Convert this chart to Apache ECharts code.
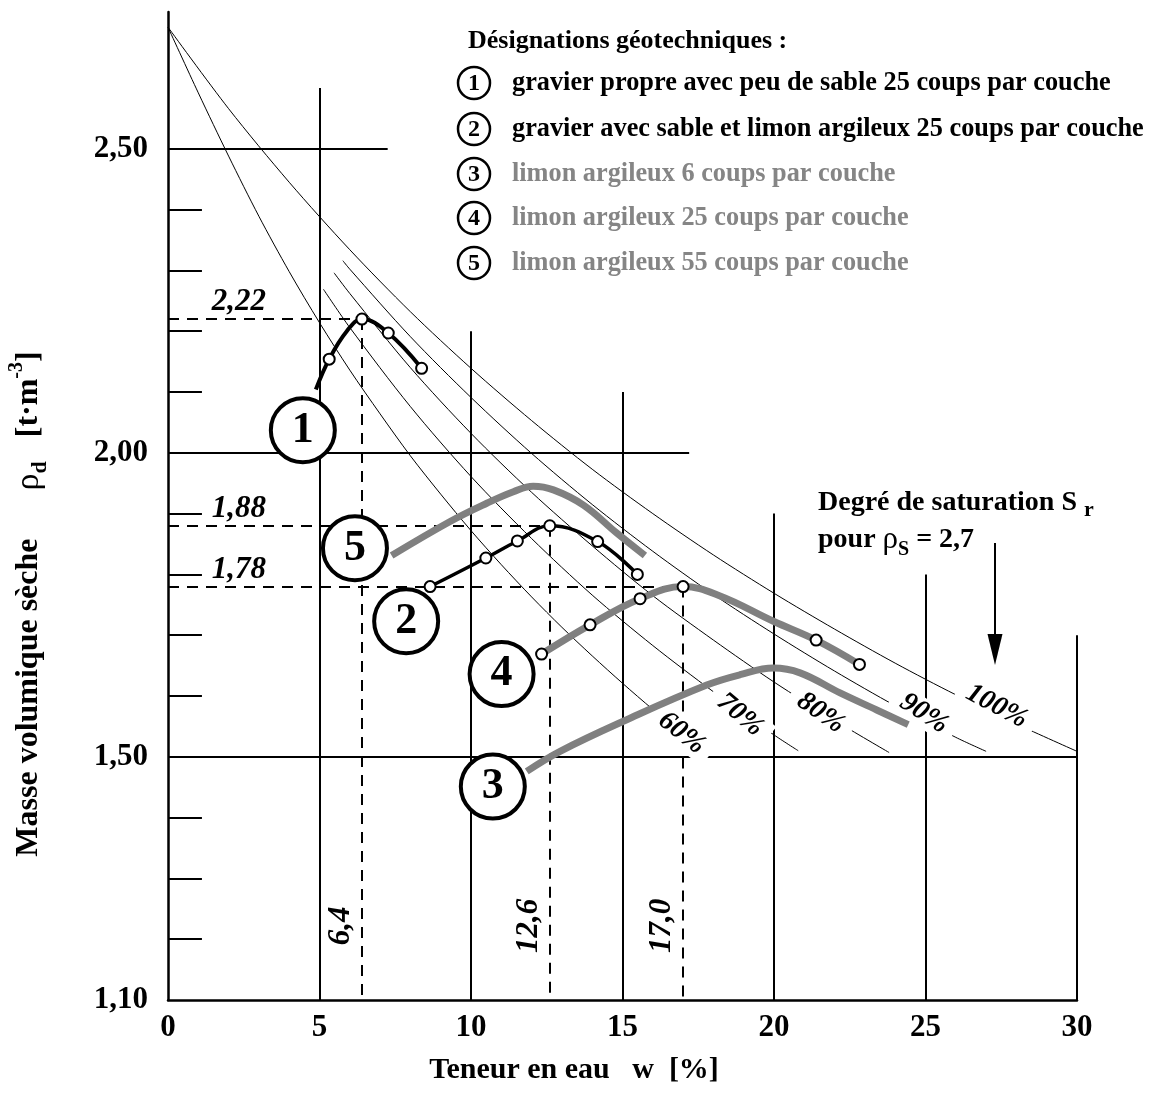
<!DOCTYPE html>
<html lang="fr">
<head>
<meta charset="UTF-8">
<title>Essai Proctor - masse volumique sèche</title>
<style>
  html, body { margin: 0; padding: 0; background: #fff; }
  #chart { width: 1152px; height: 1093px; }
</style>
</head>
<body>
<div id="chart"></div>
<script src="https://cdn.jsdelivr.net/npm/echarts@6/dist/echarts.min.js"></script>
<script>
var FONT = '"Liberation Serif", "Times New Roman", serif';

// courbes de saturation : [w %, rho_d]
var sat60 = [[0,2.700],[1,2.592],[2,2.488],[3,2.389],[4,2.298],[5,2.214],[6,2.136],[7,2.064],[8,1.995],[9,1.932],[10,1.872],[11,1.816],[12,1.763],[13,1.713],[14,1.666],[15,1.621],[16,1.578],[17,1.538],[17.3,1.527]];
var sat70 = [[5.13,2.269],[6,2.206],[8,2.076],[10,1.961],[12,1.859],[14,1.766],[16,1.683],[18,1.607],[20,1.536],[20.8,1.510]];
var sat80 = [[5.48,2.296],[6,2.262],[8,2.140],[10,2.032],[12,1.935],[14,1.847],[16,1.765],[18,1.692],[20,1.623],[22,1.560],[23.8,1.507]];
var sat90 = [[5.77,2.316],[6,2.302],[8,2.191],[10,2.091],[12,1.999],[14,1.915],[16,1.838],[18,1.767],[20,1.702],[22,1.641],[24,1.584],[26,1.532],[27,1.509]];
var sat100 = [[0,2.700],[2,2.566],[4,2.445],[6,2.334],[8,2.232],[10,2.139],[12,2.053],[14,1.973],[16,1.900],[18,1.832],[20,1.769],[22,1.710],[24,1.654],[26,1.602],[28,1.554],[30,1.509]];
var satNames = ['60%', '70%', '80%', '90%', '100%'];

// essais Proctor
var c1Line = [[4.88,2.104],[5.32,2.154],[5.9,2.200],[6.4,2.220],[7.27,2.197],[8.37,2.139]];
var c1Marks = [[5.32,2.154],[6.4,2.220],[7.27,2.197],[8.37,2.139]];
var c2Line = [[8.65,1.78],[10.49,1.827],[11.53,1.855],[12.6,1.88],[14.18,1.854],[15.49,1.80]];
var c3Line = [[11.84,1.476],[12.94,1.509],[15.14,1.561],[17.78,1.618],[18.88,1.635],[19.98,1.646],[20.86,1.638],[22.18,1.605],[23.39,1.577],[24.43,1.553]];
var c4Line = [[12.33,1.669],[13.93,1.717],[15.58,1.760],[17.0,1.78],[18.2,1.765],[19.98,1.723],[21.39,1.692],[22.82,1.652]];
var c4Marks = [[12.33,1.669],[13.93,1.717],[15.58,1.760],[17.0,1.78],[21.39,1.692],[22.82,1.652]];
var c5Line = [[7.38,1.831],[9.31,1.887],[10.52,1.917],[11.40,1.936],[12.05,1.945],[12.72,1.939],[13.71,1.914],[14.81,1.868],[15.74,1.831]];

// optimums
var optW = [6.4, 12.6, 17.0];
var optRho = [2.22, 1.88, 1.78];

// axes
var yLabelVals = [1.1, 1.5, 2.0, 2.5];
var yTicks = [1.2, 1.3, 1.4, 1.6, 1.7, 1.8, 1.9, 2.1, 2.2, 2.3, 2.4];
var gridX = [5, 10, 15, 20, 25, 30];
var gridXTop = [2.6, 2.2, 2.1, 1.9, 1.8, 1.7];
var gridY = [2.5, 2.0, 1.5];
var gridYEnd = [7.25, 17.2, 30];

var legendNums = ['1', '2', '3', '4', '5'];
var legendTexts = [
  'gravier propre avec peu de sable 25 coups par couche',
  'gravier avec sable et limon argileux 25 coups par couche',
  'limon argileux 6 coups par couche',
  'limon argileux 25 coups par couche',
  'limon argileux 55 coups par couche'
];

function fmt(v, d) { return v.toFixed(d).replace('.', ','); }

var chart = echarts.init(document.getElementById('chart'));

var gridSegs = [];
gridX.forEach(function (x, i) { gridSegs.push({ coords: [[x, 1.1], [x, gridXTop[i]]] }); });
gridY.forEach(function (y, i) { gridSegs.push({ coords: [[0, y], [gridYEnd[i], y]] }); });
yTicks.forEach(function (y) { gridSegs.push({ coords: [[0, y], [1.12, y]] }); });

var dashSegs = [];
optW.forEach(function (w, i) {
  dashSegs.push({ coords: [[0, optRho[i]], [w, optRho[i]]] });
  dashSegs.push({ coords: [[w, optRho[i]], [w, 1.1]] });
});

function satLine(data) {
  return { type: 'line', data: data, smooth: 0.3, symbol: 'none', z: 2, silent: true,
    lineStyle: { color: '#000', width: 1 } };
}
function curve(data, color, width, z) {
  return { type: 'line', data: data, smooth: 0.4, symbol: 'none', z: z, silent: true,
    lineStyle: { color: color, width: width, cap: 'butt' } };
}
function marks(data) {
  return { type: 'scatter', data: data, symbol: 'circle', symbolSize: 11, z: 9, silent: true,
    itemStyle: { color: '#fff', borderColor: '#000', borderWidth: 2, opacity: 1 } };
}

// emplacement des étiquettes
var satLabelPos = [[16.95,1.539],[18.88,1.569],[21.54,1.572],[24.95,1.571],[27.35,1.583]];
var satLabelRot = [-38, -40, -35, -33, -28];
var circlePos = [[4.45,2.037],[7.86,1.723],[10.72,1.451],[11.01,1.636],[6.17,1.843]];

var boldLbl = { fontFamily: FONT, fontWeight: 'bold', color: '#000' };
var hidden = { color: 'rgba(0,0,0,0)', borderWidth: 0, opacity: 1 };

var series = [
  { type: 'lines', coordinateSystem: 'cartesian2d', data: gridSegs, z: 1, silent: true,
    lineStyle: { color: '#000', width: 2, opacity: 1 } },
  satLine(sat60), satLine(sat70), satLine(sat80), satLine(sat90), satLine(sat100),
  { type: 'lines', coordinateSystem: 'cartesian2d', data: dashSegs, z: 3, silent: true,
    lineStyle: { color: '#000', width: 2, opacity: 1, type: [11, 8] } },
  { type: 'scatter', symbolSize: 2, z: 4, silent: true, itemStyle: hidden,
    data: satLabelPos.map(function (p, i) {
      return { value: p, label: { show: true, formatter: satNames[i], rotate: satLabelRot[i] } };
    }),
    label: Object.assign({ position: 'inside', fontSize: 28, fontStyle: 'italic',
      backgroundColor: '#fff', padding: [0, 10] }, boldLbl) },
  curve(c3Line, '#808080', 7, 5),
  curve(c4Line, '#808080', 7, 5),
  curve(c5Line, '#808080', 7, 5),
  curve(c1Line, '#000', 4, 6),
  curve(c2Line, '#000', 3.5, 6),
  marks(c1Marks), marks(c2Line), marks(c4Marks),
  // valeurs des optimums
  { type: 'scatter', symbolSize: 2, z: 8, silent: true, itemStyle: hidden,
    data: optRho.map(function (r) {
      return { value: [2.34, r], label: { show: true, formatter: fmt(r, 2), offset: [0, -17] } };
    }).concat(optW.map(function (w) {
      return { value: [w, 1.222], label: { show: true, formatter: fmt(w, 1), rotate: 90, offset: [0, -21] } };
    })),
    label: Object.assign({ position: 'inside', fontSize: 31, fontStyle: 'italic' }, boldLbl) },
  // numéros des courbes
  { type: 'scatter', symbol: 'circle', symbolSize: 64, z: 10, silent: true,
    itemStyle: { color: '#fff', borderColor: '#000', borderWidth: 4, opacity: 1 },
    data: circlePos.map(function (p, i) { return { value: p, label: { show: true, formatter: legendNums[i] } }; }),
    label: Object.assign({ position: 'inside', fontSize: 44 }, boldLbl) }
];

var graphic = [
  { type: 'text', x: 468, y: 41, style: { text: 'Désignations géotechniques :', font: 'bold 26px ' + FONT,
    fill: '#000', align: 'left', verticalAlign: 'middle', textAlign: 'left', textVerticalAlign: 'middle' } }
];
var legendY = [83, 129, 174, 218, 263];
legendTexts.forEach(function (t, i) {
  var col = i < 2 ? '#000' : '#858585';
  graphic.push({ type: 'circle', shape: { cx: 474, cy: legendY[i], r: 16 },
    style: { fill: '#fff', stroke: '#000', lineWidth: 2.5 } });
  graphic.push({ type: 'text', x: 474, y: legendY[i] + 1, style: { text: legendNums[i], font: 'bold 24px ' + FONT,
    fill: '#000', align: 'center', verticalAlign: 'middle', textAlign: 'center', textVerticalAlign: 'middle' } });
  graphic.push({ type: 'text', x: 512, y: legendY[i], style: { text: t, font: 'bold 26.3px ' + FONT,
    fill: col, align: 'left', verticalAlign: 'middle', textAlign: 'left', textVerticalAlign: 'middle' } });
});
// Degré de saturation
graphic.push({ type: 'text', x: 818, y: 503, style: {
  text: 'Degré de saturation S {sub|r}', font: 'bold 28px ' + FONT, fill: '#000', lineHeight: 36,
  align: 'left', verticalAlign: 'middle', textAlign: 'left', textVerticalAlign: 'middle',
  rich: { sub: { fontFamily: FONT, fontWeight: 'bold', fontSize: 22, verticalAlign: 'bottom', lineHeight: 22 } } } });
graphic.push({ type: 'text', x: 818, y: 540, style: {
  text: 'pour {rho|ρ}{sub|S} = 2,7', font: 'bold 28px ' + FONT, fill: '#000', lineHeight: 40,
  align: 'left', verticalAlign: 'middle', textAlign: 'left', textVerticalAlign: 'middle',
  rich: { rho: { fontFamily: FONT, fontWeight: 'normal', fontSize: 31, lineHeight: 40 },
          sub: { fontFamily: FONT, fontWeight: 'bold', fontSize: 20, verticalAlign: 'bottom', lineHeight: 20 } } } });
// flèche
graphic.push({ type: 'line', shape: { x1: 995, y1: 543, x2: 995, y2: 640 }, style: { stroke: '#000', lineWidth: 2 } });
graphic.push({ type: 'polygon', shape: { points: [[987.5, 634], [1002.5, 634], [995, 665]] }, style: { fill: '#000' } });
// titres des axes
graphic.push({ type: 'text', x: 574, y: 1070, style: {
  text: 'Teneur en eau   w  [%]', font: 'bold 30px ' + FONT, fill: '#000',
  align: 'center', verticalAlign: 'middle', textAlign: 'center', textVerticalAlign: 'middle' } });
graphic.push({ type: 'text', x: 29, y: 604, rotation: Math.PI / 2, style: {
  text: 'Masse volumique sèche      {rho|ρ}{sub|d}   [t·m{sup|-3}]', font: 'bold 32px ' + FONT, fill: '#000', lineHeight: 44,
  align: 'center', verticalAlign: 'middle', textAlign: 'center', textVerticalAlign: 'middle',
  rich: { rho: { fontFamily: FONT, fontWeight: 'normal', fontSize: 34, lineHeight: 44 },
          sub: { fontFamily: FONT, fontWeight: 'bold', fontSize: 22, verticalAlign: 'bottom', lineHeight: 22 },
          sup: { fontFamily: FONT, fontWeight: 'bold', fontSize: 20, verticalAlign: 'top', lineHeight: 20 } } } });

var option = {
  animation: false,
  backgroundColor: '#fff',
  grid: { left: 168, right: 75, top: 12, bottom: 93, outerBoundsMode: 'none' },
  xAxis: {
    type: 'value', min: 0, max: 30, interval: 5,
    axisLine: { onZero: false, lineStyle: { color: '#000', width: 2.5 } },
    axisTick: { show: false }, splitLine: { show: false },
    axisLabel: { margin: 12, fontSize: 31, fontFamily: FONT, fontWeight: 'bold', color: '#000' }
  },
  yAxis: {
    type: 'value', min: 1.1, max: 2.725, interval: 0.1,
    axisLine: { show: true, onZero: false, lineStyle: { color: '#000', width: 2.5 } },
    axisTick: { show: false }, splitLine: { show: false },
    axisLabel: { margin: 20, fontSize: 31, fontFamily: FONT, fontWeight: 'bold', color: '#000',
      showMaxLabel: false,
      formatter: function (v) {
        return yLabelVals.some(function (t) { return Math.abs(t - v) < 1e-6; }) ? fmt(v, 2) : '';
      } }
  },
  graphic: graphic,
  series: series
};
chart.setOption(option);
</script>
</body>
</html>
